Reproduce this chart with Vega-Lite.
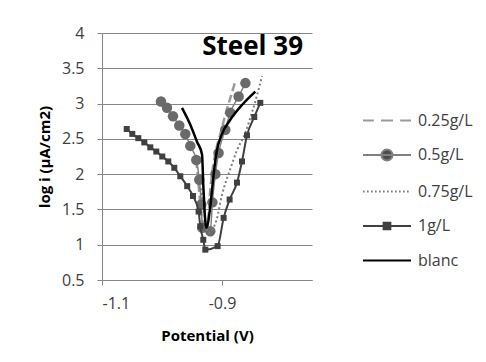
{
  "$schema": "https://vega.github.io/schema/vega-lite/v6.json",
  "width": 210,
  "height": 247,
  "autosize": {"type": "none"},
  "padding": {"left": 102, "top": 33, "right": 174, "bottom": 82},
  "background": "white",
  "config": {
    "view": {"stroke": null},
    "font": "Open Sans",
    "legend": {
      "orient": "none",
      "legendX": 272,
      "legendY": 74.5,
      "padding": 0,
      "labelFont": "Open Sans",
      "labelFontSize": 16,
      "labelColor": "#404040",
      "symbolSize": 576,
      "symbolStrokeWidth": 2,
      "symbolOpacity": 1,
      "rowPadding": 13.5,
      "labelOffset": 18
    }
  },
  "title": {
    "text": "Steel 39",
    "anchor": "end",
    "frame": "group",
    "font": "Open Sans",
    "fontWeight": "bold",
    "fontSize": 26,
    "color": "#000000",
    "baseline": "alphabetic",
    "offset": -56,
    "dx": -9
  },
  "datasets": {
    "d": [
      {"s": "0.25g/L", "o": 1, "v": -0.943, "l": 2.2},
      {"s": "0.25g/L", "o": 2, "v": -0.938, "l": 1.75},
      {"s": "0.25g/L", "o": 3, "v": -0.934, "l": 1.4},
      {"s": "0.25g/L", "o": 4, "v": -0.925, "l": 1.19},
      {"s": "0.25g/L", "o": 5, "v": -0.9195, "l": 1.78},
      {"s": "0.25g/L", "o": 6, "v": -0.911, "l": 2.3},
      {"s": "0.25g/L", "o": 7, "v": -0.903, "l": 2.56},
      {"s": "0.25g/L", "o": 8, "v": -0.8945, "l": 2.84},
      {"s": "0.25g/L", "o": 9, "v": -0.886, "l": 3.08},
      {"s": "0.25g/L", "o": 10, "v": -0.878, "l": 3.31},
      {"s": "0.5g/L", "o": 1, "v": -1.0017, "l": 3.03},
      {"s": "0.5g/L", "o": 2, "v": -0.9917, "l": 2.94},
      {"s": "0.5g/L", "o": 3, "v": -0.9817, "l": 2.82},
      {"s": "0.5g/L", "o": 4, "v": -0.9712, "l": 2.69},
      {"s": "0.5g/L", "o": 5, "v": -0.9612, "l": 2.57},
      {"s": "0.5g/L", "o": 6, "v": -0.9528, "l": 2.4},
      {"s": "0.5g/L", "o": 7, "v": -0.9428, "l": 2.2},
      {"s": "0.5g/L", "o": 8, "v": -0.9378, "l": 1.92},
      {"s": "0.5g/L", "o": 9, "v": -0.9345, "l": 1.57},
      {"s": "0.5g/L", "o": 10, "v": -0.9328, "l": 1.24},
      {"s": "0.5g/L", "o": 11, "v": -0.9195, "l": 1.19},
      {"s": "0.5g/L", "o": 12, "v": -0.916, "l": 1.6},
      {"s": "0.5g/L", "o": 13, "v": -0.911, "l": 2.0},
      {"s": "0.5g/L", "o": 14, "v": -0.9057, "l": 2.3},
      {"s": "0.5g/L", "o": 15, "v": -0.8945, "l": 2.63},
      {"s": "0.5g/L", "o": 16, "v": -0.8862, "l": 2.87},
      {"s": "0.5g/L", "o": 17, "v": -0.8723, "l": 3.1},
      {"s": "0.5g/L", "o": 18, "v": -0.861, "l": 3.29},
      {"s": "0.75g/L", "o": 1, "v": -0.935, "l": 1.8},
      {"s": "0.75g/L", "o": 2, "v": -0.929, "l": 1.42},
      {"s": "0.75g/L", "o": 3, "v": -0.9225, "l": 1.17},
      {"s": "0.75g/L", "o": 4, "v": -0.9088, "l": 1.36},
      {"s": "0.75g/L", "o": 5, "v": -0.9005, "l": 1.69},
      {"s": "0.75g/L", "o": 6, "v": -0.8867, "l": 2.06},
      {"s": "0.75g/L", "o": 7, "v": -0.8745, "l": 2.35},
      {"s": "0.75g/L", "o": 8, "v": -0.8612, "l": 2.58},
      {"s": "0.75g/L", "o": 9, "v": -0.8528, "l": 2.8},
      {"s": "0.75g/L", "o": 10, "v": -0.8445, "l": 3.03},
      {"s": "0.75g/L", "o": 11, "v": -0.8333, "l": 3.39},
      {"s": "1g/L", "o": 1, "v": -1.0588, "l": 2.64},
      {"s": "1g/L", "o": 2, "v": -1.0495, "l": 2.57},
      {"s": "1g/L", "o": 3, "v": -1.0395, "l": 2.51},
      {"s": "1g/L", "o": 4, "v": -1.0295, "l": 2.45},
      {"s": "1g/L", "o": 5, "v": -1.0195, "l": 2.38},
      {"s": "1g/L", "o": 6, "v": -1.0095, "l": 2.32},
      {"s": "1g/L", "o": 7, "v": -0.9995, "l": 2.25},
      {"s": "1g/L", "o": 8, "v": -0.9895, "l": 2.18},
      {"s": "1g/L", "o": 9, "v": -0.9795, "l": 2.09},
      {"s": "1g/L", "o": 10, "v": -0.9695, "l": 1.97},
      {"s": "1g/L", "o": 11, "v": -0.958, "l": 1.83},
      {"s": "1g/L", "o": 12, "v": -0.9483, "l": 1.69},
      {"s": "1g/L", "o": 13, "v": -0.939, "l": 1.47},
      {"s": "1g/L", "o": 14, "v": -0.9362, "l": 1.26},
      {"s": "1g/L", "o": 15, "v": -0.9312, "l": 1.07},
      {"s": "1g/L", "o": 16, "v": -0.9278, "l": 0.93},
      {"s": "1g/L", "o": 17, "v": -0.9073, "l": 0.98},
      {"s": "1g/L", "o": 18, "v": -0.8973, "l": 1.38},
      {"s": "1g/L", "o": 19, "v": -0.8873, "l": 1.64},
      {"s": "1g/L", "o": 20, "v": -0.875, "l": 1.88},
      {"s": "1g/L", "o": 21, "v": -0.8667, "l": 2.18},
      {"s": "1g/L", "o": 22, "v": -0.8583, "l": 2.55},
      {"s": "1g/L", "o": 23, "v": -0.8462, "l": 2.81},
      {"s": "1g/L", "o": 24, "v": -0.8362, "l": 3.01},
      {"s": "blanc", "o": 1, "v": -0.9667, "l": 2.94},
      {"s": "blanc", "o": 2, "v": -0.9528, "l": 2.7},
      {"s": "blanc", "o": 3, "v": -0.9417, "l": 2.46},
      {"s": "blanc", "o": 4, "v": -0.9333, "l": 2.28},
      {"s": "blanc", "o": 5, "v": -0.9312, "l": 1.85},
      {"s": "blanc", "o": 6, "v": -0.9295, "l": 1.55},
      {"s": "blanc", "o": 7, "v": -0.9262, "l": 1.24},
      {"s": "blanc", "o": 8, "v": -0.9195, "l": 1.54},
      {"s": "blanc", "o": 9, "v": -0.914, "l": 1.99},
      {"s": "blanc", "o": 10, "v": -0.9088, "l": 2.32},
      {"s": "blanc", "o": 11, "v": -0.9005, "l": 2.56},
      {"s": "blanc", "o": 12, "v": -0.8862, "l": 2.77},
      {"s": "blanc", "o": 13, "v": -0.8667, "l": 2.98},
      {"s": "blanc", "o": 14, "v": -0.8445, "l": 3.17}
    ]
  },
  "data": {"name": "d"},
  "encoding": {
    "x": {
      "field": "v",
      "type": "quantitative",
      "scale": {"domain": [-1.1, -0.75], "nice": false, "zero": false},
      "axis": {
        "values": [-1.1, -0.9],
        "grid": false,
        "domainColor": "#868686",
        "tickColor": "#868686",
        "tickSize": 5,
        "labelExpr": "replace(format(datum.value, '.1f'), '\u2212', '-')",
        "labelFont": "Open Sans",
        "labelFontSize": 16,
        "labelColor": "#404040",
        "labelPadding": 10,
        "title": "Potential (V)",
        "titleFont": "Open Sans",
        "titleFontWeight": "bold",
        "titleFontSize": 15,
        "titleColor": "#000000",
        "titleX": 105,
        "titleY": 55,
        "titleBaseline": "middle"
      }
    },
    "y": {
      "field": "l",
      "type": "quantitative",
      "scale": {"domain": [0.5, 4], "nice": false, "zero": false},
      "axis": {
        "values": [0.5, 1, 1.5, 2, 2.5, 3, 3.5, 4],
        "format": "~g",
        "grid": true,
        "gridColor": "#868686",
        "gridWidth": 1,
        "domainColor": "#868686",
        "tickColor": "#868686",
        "tickSize": 5,
        "labelFont": "Open Sans",
        "labelFontSize": 16,
        "labelColor": "#404040",
        "labelPadding": 13,
        "title": "log i (µA/cm2)",
        "titleFont": "Open Sans",
        "titleFontWeight": "bold",
        "titleFontSize": 15,
        "titleColor": "#000000",
        "titleX": -58,
        "titleY": 123.5,
        "titleBaseline": "middle",
        "titleAngle": -90
      }
    },
    "order": {"field": "o", "type": "quantitative"}
  },
  "layer": [
    {
      "transform": [{"filter": "datum.s === '0.25g/L'"}],
      "mark": {"type": "line", "color": "#9a9a9a", "strokeWidth": 2.5, "strokeDash": [8, 4], "interpolate": "monotone"}
    },
    {
      "transform": [{"filter": "datum.s === '0.5g/L'"}],
      "mark": {"type": "line", "color": "#808080", "strokeWidth": 1.5, "interpolate": "monotone"}
    },
    {
      "transform": [{"filter": "datum.s === '0.5g/L'"}],
      "mark": {"type": "point", "shape": "circle", "filled": true, "size": 110, "color": "#6a6a6a", "opacity": 1}
    },
    {
      "transform": [{"filter": "datum.s === '0.75g/L'"}],
      "mark": {"type": "line", "color": "#7f7f7f", "strokeWidth": 2, "strokeDash": [2, 2.5], "interpolate": "monotone"}
    },
    {
      "transform": [{"filter": "datum.s === '1g/L'"}],
      "mark": {"type": "line", "color": "#404040", "strokeWidth": 2, "interpolate": "monotone"}
    },
    {
      "transform": [{"filter": "datum.s === '1g/L'"}],
      "mark": {"type": "point", "shape": "square", "filled": true, "size": 36, "color": "#404040", "opacity": 1}
    },
    {
      "transform": [{"filter": "datum.s === 'blanc'"}],
      "mark": {"type": "line", "color": "#000000", "strokeWidth": 2.5, "interpolate": "monotone"}
    },
    {
      "mark": {"type": "point", "filled": true, "opacity": 0, "strokeWidth": 2},
      "encoding": {
        "shape": {
          "field": "s",
          "type": "nominal",
          "scale": {
            "domain": ["0.25g/L", "0.5g/L", "0.75g/L", "1g/L", "blanc"],
            "range": [
              "M-2,0H-1.1M-0.5,0H0.5M1.1,0H2",
              "M-2,0H2M0.46,0A0.46,0.46,0,1,1,-0.46,0A0.46,0.46,0,1,1,0.46,0Z",
              "M-2,0H-1.86M-1.666,0H-1.526M-1.334,0H-1.194M-1,0H-0.86M-0.666,0H-0.526M-0.334,0H-0.194M0,0H0.14M0.334,0H0.474M0.666,0H0.806M1,0H1.14M1.334,0H1.474M1.666,0H1.806",
              "M-2,0H2M-0.28,-0.28H0.28V0.28H-0.28Z",
              "M-2,0H2"
            ]
          },
          "legend": {"title": null}
        },
        "fill": {
          "field": "s",
          "type": "nominal",
          "scale": {
            "domain": ["0.25g/L", "0.5g/L", "0.75g/L", "1g/L", "blanc"],
            "range": ["#9a9a9a", "#4d4d4d", "#808080", "#404040", "#000000"]
          },
          "legend": {"title": null}
        },
        "stroke": {
          "field": "s",
          "type": "nominal",
          "scale": {
            "domain": ["0.25g/L", "0.5g/L", "0.75g/L", "1g/L", "blanc"],
            "range": ["#9a9a9a", "#808080", "#808080", "#404040", "#000000"]
          },
          "legend": {"title": null}
        }
      }
    }
  ]
}
